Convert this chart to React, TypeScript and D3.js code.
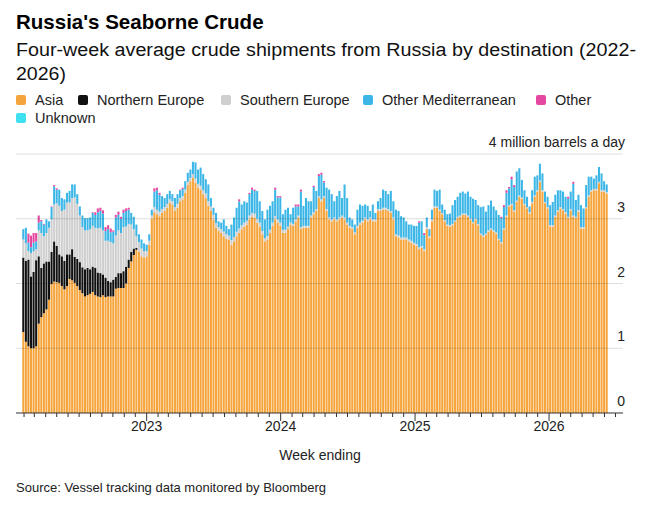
import React from 'react';
import * as d3 from 'd3';

// weekly four-week averages, million barrels a day, first week ending 2022-01-30
const asia = [
  1.25, 1.10, 1.03, 1.00, 1.00, 1.03, 1.38, 1.48, 1.54, 1.60,
  1.75, 1.99, 2.03, 2.02, 2.01, 1.96, 1.91, 1.96, 2.07, 2.05,
  2.01, 1.96, 1.90, 1.85, 1.80, 1.82, 1.84, 1.87, 1.82, 1.80,
  1.79, 1.82, 1.79, 1.80, 1.80, 1.80, 1.92, 1.93, 1.93, 1.93,
  2.00, 2.24, 2.34, 2.44, 2.52, 2.49, 2.42, 2.40, 2.42,
  2.60, 3.00, 3.10, 3.07, 3.04, 3.09, 3.12, 3.17, 3.25, 3.22,
  3.12, 3.17, 3.27, 3.30, 3.40, 3.52, 3.58, 3.63, 3.56, 3.48,
  3.45, 3.38, 3.32, 3.20, 3.12, 2.99, 2.86, 2.81, 2.78, 2.73,
  2.69, 2.68, 2.60, 2.65, 2.73, 2.78, 2.84, 2.88, 2.91, 2.99,
  3.03, 3.02, 2.94, 2.88, 2.76, 2.65, 2.68, 2.78, 2.89, 2.99,
  2.94, 2.89, 2.78, 2.78, 2.84,
  2.91, 2.89, 2.96, 3.02, 2.84, 2.86, 2.86, 2.86, 3.02, 3.07,
  3.12, 3.32, 3.27, 3.32, 3.12, 2.99, 2.96, 2.99, 2.96, 2.99,
  3.02, 2.99, 2.91, 2.86, 2.84, 2.76, 2.86, 2.91, 2.94, 2.99,
  2.96, 2.99, 2.96, 2.96, 3.12, 3.12, 3.14, 3.14, 3.12, 3.09,
  2.99, 2.73, 2.71, 2.68, 2.68, 2.68, 2.65, 2.63, 2.60, 2.58,
  2.53, 2.55, 2.50, 2.84, 2.70, 2.96, 3.17, 3.17, 3.12, 3.07,
  2.96, 2.89,
  2.88, 2.90, 2.95, 3.01, 3.03, 3.06, 3.06, 3.03, 2.98, 2.93,
  2.98, 2.90, 2.75, 2.72, 2.75, 2.80, 2.83, 2.80, 2.77, 2.67,
  2.62, 2.83, 3.03, 3.19, 3.21, 3.11, 3.26, 3.34, 3.31, 3.21,
  3.16, 3.08, 3.24, 3.34, 3.42, 3.57, 3.42, 3.24, 3.16, 2.88,
  2.88, 3.03, 3.11, 3.16, 3.13, 3.08, 3.01, 3.13, 3.03, 3.01,
  3.11, 2.85, 2.85, 3.16, 3.34, 3.42, 3.44, 3.44, 3.55, 3.42,
  3.42, 3.39,
];

const northernEurope = [
  1.15, 1.25, 1.34, 1.11, 1.18, 1.33, 1.04, 0.76, 0.77, 0.74,
  0.59, 0.50, 0.62, 0.56, 0.44, 0.46, 0.44, 0.49, 0.38, 0.48,
  0.40, 0.42, 0.43, 0.40, 0.42, 0.42, 0.38, 0.39, 0.42, 0.37,
  0.37, 0.32, 0.30, 0.24, 0.22, 0.26, 0.18, 0.23, 0.23, 0.26,
  0.26, 0.13, 0.15, 0.10, 0.03, 0, 0, 0, 0,
  0, 0, 0, 0, 0, 0, 0, 0, 0, 0, 0, 0, 0, 0, 0, 0, 0, 0, 0, 0,
  0, 0, 0, 0, 0, 0, 0, 0, 0, 0, 0, 0, 0, 0, 0, 0, 0, 0, 0, 0,
  0, 0, 0, 0, 0, 0, 0, 0, 0, 0, 0, 0, 0, 0, 0, 0, 0, 0, 0, 0,
  0, 0, 0, 0, 0, 0, 0, 0, 0, 0, 0, 0, 0, 0, 0, 0, 0, 0, 0, 0,
  0, 0, 0, 0, 0, 0, 0, 0, 0, 0, 0, 0, 0, 0, 0, 0, 0, 0, 0, 0,
  0, 0, 0, 0, 0, 0, 0, 0, 0, 0, 0, 0, 0, 0, 0, 0, 0, 0, 0, 0,
  0, 0, 0, 0, 0, 0, 0, 0, 0, 0, 0, 0, 0, 0, 0, 0, 0, 0, 0, 0,
  0, 0, 0, 0, 0, 0, 0, 0, 0, 0, 0, 0, 0, 0, 0, 0, 0, 0, 0, 0,
  0, 0, 0, 0, 0, 0, 0, 0, 0, 0, 0, 0, 0, 0, 0, 0, 0, 0, 0, 0,
];

const southernEurope = [
  0.28, 0.27, 0.13, 0.36, 0.32, 0.17, 0.40, 0.54, 0.42, 0.44,
  0.52, 0.50, 0.57, 0.66, 0.75, 0.70, 0.79, 0.80, 0.80, 0.79,
  0.92, 0.85, 0.72, 0.62, 0.60, 0.58, 0.62, 0.63, 0.62, 0.68,
  0.70, 0.68, 0.57, 0.62, 0.62, 0.56, 0.64, 0.66, 0.62, 0.68,
  0.62, 0.55, 0.42, 0.30, 0.18, 0.15, 0.12, 0.10, 0.08,
  0.06, 0.05, 0.08, 0.07, 0.07, 0.06, 0.06, 0.06, 0.05, 0.05,
  0.06, 0.06, 0.05, 0.05, 0.05, 0.05, 0.05, 0.06, 0.06, 0.06,
  0.06, 0.06, 0.07, 0.07, 0.07, 0.07, 0.07, 0.06, 0.06, 0.07,
  0.07, 0.06, 0.07, 0.07, 0.07, 0.07, 0.06, 0.06, 0.06, 0.06,
  0.06, 0.06, 0.06, 0.06, 0.05, 0.05, 0.05, 0.05, 0.05, 0.05,
  0.05, 0.05, 0.05, 0.05, 0.04,
  0.03, 0.03, 0.03, 0.03, 0.03, 0.03, 0.03, 0.03, 0.03, 0.03,
  0.03, 0.03, 0.03, 0.03, 0.03, 0.03, 0.03, 0.03, 0.03, 0.03,
  0.03, 0.03, 0.03, 0.03, 0.03, 0.03, 0.03, 0.03, 0.03, 0.03,
  0.03, 0.03, 0.03, 0.03, 0.03, 0.03, 0.03, 0.03, 0.03, 0.03,
  0.03, 0.03, 0.03, 0.03, 0.03, 0.03, 0.03, 0.03, 0.03, 0.03,
  0.03, 0.03, 0.03, 0.03, 0.03, 0.03, 0.02, 0.02, 0.02, 0.02,
  0.02, 0.02,
  0.02, 0.02, 0.02, 0.02, 0.02, 0.02, 0.02, 0.02, 0.02, 0.02,
  0.02, 0.02, 0.02, 0.02, 0.02, 0.02, 0.02, 0.02, 0.02, 0.02,
  0.02, 0.02, 0.02, 0.02, 0.02, 0.02, 0.02, 0.02, 0.02, 0.02,
  0.02, 0.02, 0.02, 0.02, 0.02, 0.02, 0.02, 0.02, 0.02, 0.02,
  0.02, 0.02, 0.02, 0.02, 0.02, 0.02, 0.02, 0.02, 0.02, 0.02,
  0.02, 0.02, 0.02, 0.02, 0.02, 0.02, 0.02, 0.02, 0.02, 0.02,
  0.02, 0.02,
];

const otherMed = [
  0.16, 0.24, 0.13, 0.09, 0.13, 0.12, 0.12, 0.18, 0.18, 0.21,
  0.10, 0.19, 0.28, 0.21, 0.25, 0.20, 0.16, 0.15, 0.18, 0.21,
  0.20, 0.15, 0.14, 0.18, 0.19, 0.19, 0.18, 0.20, 0.20, 0.25,
  0.26, 0.26, 0.15, 0.18, 0.15, 0.18, 0.28, 0.24, 0.22, 0.22,
  0.24, 0.22, 0.18, 0.19, 0.18, 0.12, 0.14, 0.12, 0.10,
  0.10, 0.09, 0.24, 0.30, 0.26, 0.20, 0.14, 0.15, 0.13, 0.11,
  0.14, 0.15, 0.12, 0.11, 0.13, 0.14, 0.13, 0.19, 0.25, 0.22,
  0.28, 0.25, 0.22, 0.26, 0.13, 0.11, 0.16, 0.09, 0.10, 0.19,
  0.13, 0.10, 0.24, 0.30, 0.37, 0.42, 0.32, 0.33, 0.28, 0.33,
  0.36, 0.35, 0.43, 0.33, 0.31, 0.29, 0.41, 0.37, 0.33, 0.41,
  0.34, 0.39, 0.24, 0.31, 0.29,
  0.13, 0.25, 0.20, 0.14, 0.55, 0.31, 0.43, 0.38, 0.22, 0.39,
  0.28, 0.31, 0.38, 0.21, 0.33, 0.43, 0.39, 0.25, 0.36, 0.41,
  0.27, 0.51, 0.38, 0.13, 0.12, 0.12, 0.25, 0.28, 0.23, 0.20,
  0.21, 0.10, 0.23, 0.10, 0.12, 0.17, 0.28, 0.26, 0.23, 0.31,
  0.25, 0.38, 0.38, 0.33, 0.31, 0.25, 0.23, 0.25, 0.26, 0.28,
  0.38, 0.38, 0.22, 0.15, 0.11, 0.15, 0.26, 0.24, 0.31, 0.13,
  0.16, 0.16,
  0.18, 0.29, 0.32, 0.31, 0.35, 0.34, 0.31, 0.37, 0.34, 0.36,
  0.29, 0.29, 0.41, 0.45, 0.34, 0.39, 0.43, 0.37, 0.34, 0.37,
  0.37, 0.33, 0.35, 0.26, 0.38, 0.36, 0.45, 0.42, 0.27, 0.21,
  0.16, 0.09, 0.18, 0.29, 0.23, 0.26, 0.26, 0.16, 0.16, 0.31,
  0.36, 0.32, 0.31, 0.26, 0.27, 0.24, 0.28, 0.27, 0.49, 0.26,
  0.24, 0.34, 0.29, 0.34, 0.29, 0.21, 0.16, 0.21, 0.23, 0.26,
  0.14, 0.12,
];

const other = [
  0, 0, 0.14, 0.18, 0.15, 0.13, 0.11, 0.02, 0.01, 0,
  0, 0.01, 0.02, 0.02, 0, 0, 0, 0, 0, 0,
  0, 0, 0, 0, 0, 0, 0, 0.01, 0.04, 0.06,
  0.05, 0.05, 0.06, 0.06, 0.06, 0.02, 0.04, 0.05, 0.03, 0.05,
  0.04, 0.03, 0, 0, 0, 0, 0, 0, 0,
  0, 0, 0.05, 0.04, 0.03, 0, 0, 0, 0, 0,
  0, 0, 0.01, 0.02, 0, 0, 0, 0, 0, 0,
  0, 0, 0, 0, 0, 0, 0, 0, 0, 0,
  0, 0, 0, 0, 0, 0.03, 0, 0, 0, 0.02,
  0.03, 0.02, 0, 0, 0, 0, 0, 0, 0, 0.03,
  0.02, 0.02, 0, 0, 0,
  0, 0, 0.03, 0.03, 0.03, 0, 0, 0, 0, 0.02,
  0, 0.03, 0.03, 0.02, 0, 0, 0, 0, 0, 0,
  0, 0, 0, 0, 0, 0, 0, 0, 0, 0,
  0, 0, 0, 0, 0, 0, 0, 0, 0, 0,
  0, 0, 0, 0, 0, 0, 0, 0, 0, 0,
  0.02, 0, 0.03, 0, 0, 0, 0, 0, 0, 0,
  0, 0,
  0, 0, 0, 0, 0, 0, 0, 0, 0, 0,
  0, 0, 0, 0, 0, 0, 0, 0, 0, 0,
  0.02, 0.03, 0.04, 0.02, 0.04, 0.03, 0, 0, 0, 0,
  0, 0, 0, 0, 0, 0, 0, 0, 0, 0,
  0, 0, 0, 0, 0, 0, 0.03, 0, 0.03, 0,
  0, 0, 0, 0, 0, 0, 0, 0, 0, 0,
  0, 0,
];

const unknown = [
  0, 0, 0, 0, 0, 0, 0, 0, 0, 0, 0, 0, 0, 0, 0, 0, 0, 0, 0, 0,
  0, 0, 0, 0, 0, 0, 0, 0, 0, 0, 0, 0, 0, 0, 0, 0, 0, 0, 0, 0,
  0, 0, 0, 0, 0, 0, 0, 0, 0, 0, 0, 0, 0, 0, 0, 0, 0, 0, 0, 0,
  0, 0, 0, 0, 0, 0, 0, 0, 0, 0, 0, 0, 0, 0, 0, 0, 0, 0, 0, 0,
  0, 0, 0, 0, 0, 0, 0, 0, 0, 0, 0, 0, 0, 0, 0, 0, 0, 0, 0, 0,
  0, 0, 0, 0, 0, 0, 0, 0, 0, 0, 0, 0, 0, 0, 0, 0, 0, 0, 0, 0,
  0, 0, 0, 0, 0, 0, 0, 0, 0, 0, 0, 0, 0, 0, 0, 0, 0, 0, 0, 0,
  0, 0, 0, 0, 0, 0, 0, 0, 0, 0, 0, 0, 0, 0, 0, 0, 0, 0, 0, 0,
  0, 0, 0, 0, 0, 0, 0, 0, 0, 0, 0, 0, 0, 0, 0, 0, 0, 0, 0, 0,
  0, 0, 0, 0, 0, 0, 0, 0, 0, 0, 0, 0, 0, 0, 0, 0, 0, 0, 0, 0,
  0, 0, 0, 0, 0, 0, 0, 0, 0, 0, 0, 0, 0, 0, 0, 0, 0, 0, 0, 0,
  0, 0, 0, 0, 0, 0, 0, 0, 0, 0, 0, 0, 0, 0, 0.10, 0.25, 0.28,
];

const seriesKeys = ['asia', 'northernEurope', 'southernEurope', 'otherMed', 'other', 'unknown'];
const seriesNames = ['Asia', 'Northern Europe', 'Southern Europe', 'Other Mediterranean', 'Other', 'Unknown'];
const seriesColors = ['#f6a53c', '#111111', '#cfcfcf', '#3cb6e6', '#e4479f', '#3fe0ef'];
const yTicks = [0, 1, 2, 3, 4];
const yearLabels = ['2023', '2024', '2025', '2026'];
const firstWeek = '2022-01-30';

const FONT = "'Liberation Sans', Arial, sans-serif";

const App = () => {
  const weeks = asia.map((_, i) => d3.utcDay.offset(new Date(firstWeek), 7 * i));
  const rows = weeks.map((d, i) => ({
    date: d,
    asia: asia[i],
    northernEurope: northernEurope[i],
    southernEurope: southernEurope[i],
    otherMed: otherMed[i],
    other: other[i],
    unknown: unknown[i],
  }));
  const stacked = d3.stack().keys(seriesKeys)(rows as any);

  const left = 16, right = 623;
  const x = d3.scaleUtc().domain([weeks[0], weeks[weeks.length - 1]]).range([23.3, 606.7]);
  const y = d3.scaleLinear().domain([0, 4]).range([413, 154]);
  const step = x(weeks[1]) - x(weeks[0]);
  const barW = step * 0.8;

  const monthTicks = d3.utcMonth.range(x.invert(left), x.invert(right));
  const isYear = (d: Date) => d.getUTCMonth() === 0;

  // legend layout, two rows like the original
  const legendPos = [
    [16, 100], [78, 100], [221, 100], [363, 100], [536, 100], [16, 118],
  ];

  return (
    <svg width={647} height={511} style={{ position: 'absolute', left: 0, top: 0, background: '#fff' }} fontFamily={FONT}>
      <text x={16} y={29} fontSize={20.5} fontWeight="bold" fill="#000">Russia's Seaborne Crude</text>
      <text x={16} y={56} fontSize={18} fill="#111" textLength={620} lengthAdjust="spacingAndGlyphs">
        Four-week average crude shipments from Russia by destination (2022-
      </text>
      <text x={16} y={80} fontSize={18} fill="#111" textLength={50} lengthAdjust="spacingAndGlyphs">2026)</text>

      {seriesNames.map((name, i) => (
        <g key={name} transform={`translate(${legendPos[i][0]},${legendPos[i][1]})`}>
          <rect x={0} y={-5} width={10} height={10} rx={2} fill={seriesColors[i]} />
          <text x={19} y={5} fontSize={14.5} fill="#222">{name}</text>
        </g>
      ))}

      {stacked.map((layer, li) => (
        <g key={seriesKeys[li]} fill={seriesColors[li]}>
          {layer.map((d, i) => {
            const h = y(d[0]) - y(d[1]);
            if (h <= 0) return null;
            return (
              <rect key={i} x={x(weeks[i]) - barW / 2} y={y(d[1])} width={barW} height={h} />
            );
          })}
        </g>
      ))}

      {yTicks.map(t => (
        <g key={t}>
          {t > 0 && <line x1={left} x2={right} y1={y(t)} y2={y(t)} stroke="#000" strokeOpacity={0.13} strokeWidth={1} />}
          <text x={625} y={y(t) - 7} fontSize={14} textAnchor="end" fill="#222">
            {t === 4 ? '4 million barrels a day' : t}
          </text>
        </g>
      ))}

      <line x1={left} x2={right} y1={y(0)} y2={y(0)} stroke="#333" strokeWidth={1.2} />
      {monthTicks.map((d, i) => (
        <line key={i} x1={x(d)} x2={x(d)} y1={y(0)} y2={y(0) + (isYear(d) ? 8 : 4)} stroke="#333" strokeWidth={1} />
      ))}
      {yearLabels.map(yr => (
        <text key={yr} x={x(new Date(`${yr}-01-01`))} y={431} fontSize={14} textAnchor="middle" fill="#222">{yr}</text>
      ))}

      <text x={320} y={460} fontSize={14} textAnchor="middle" fill="#222">Week ending</text>
      <text x={16} y={492} fontSize={13} fill="#222">Source: Vessel tracking data monitored by Bloomberg</text>
    </svg>
  );
};

export default App;
